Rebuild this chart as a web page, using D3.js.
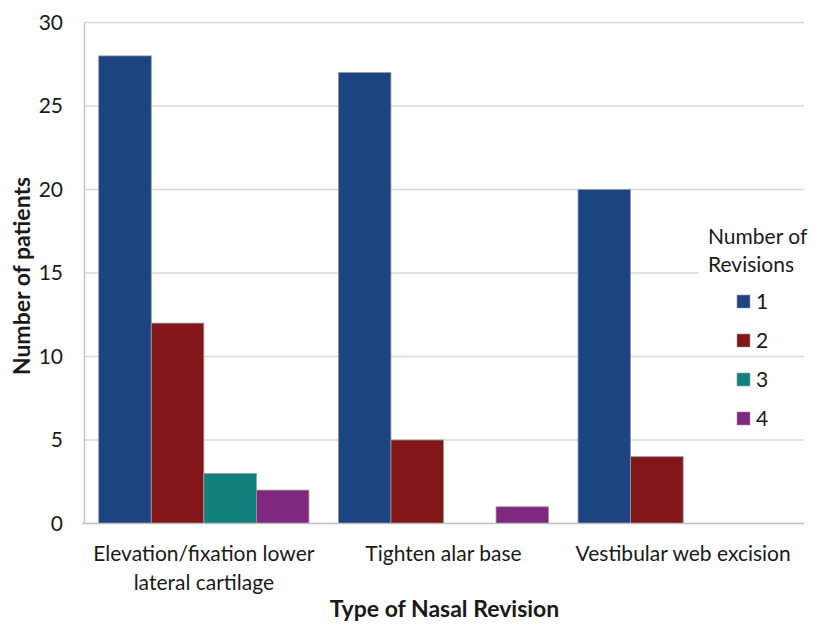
<!DOCTYPE html>
<html>
<head>
<meta charset="utf-8">
<script src="https://cdn.jsdelivr.net/npm/d3@7"></script>
<style>
  html, body { margin: 0; padding: 0; background: #fff; }
  svg text { font-family: Lato, "Open Sans", sans-serif; fill: #1a1a1a; }
</style>
</head>
<body>
<svg id="chart" width="813" height="624"></svg>
<script>
// Revision types (x categories), each label split into display lines
const categories = ["Elevation/fixation lower lateral cartilage", "Tighten alar base", "Vestibular web excision"];
const categoryLines = [["Elevation/fixation lower", "lateral cartilage"], ["Tighten alar base"], ["Vestibular web excision"]];
// Number of revisions (series)
const seriesNames = ["1", "2", "3", "4"];
const seriesColors = ["#1c4480", "#821619", "#12807d", "#7e2880"];
// Patients per revision count, one array per series, aligned with categories
const revisions1 = [28, 27, 20];
const revisions2 = [12, 5, 4];
const revisions3 = [3, 0, 0];
const revisions4 = [2, 1, 0];
const yTicks = [0, 5, 10, 15, 20, 25, 30];

const seriesValues = [revisions1, revisions2, revisions3, revisions4];
const rows = categories.map((c, i) => ({
  category: c,
  values: seriesNames.map((s, j) => ({ series: s, value: seriesValues[j][i] }))
}));

const svg = d3.select("#chart");
const margin = { left: 84, right: 10, top: 22.5, bottom: 100.5 };
const width = 813, height = 624;
const labelSize = 21;

const x0 = d3.scaleBand().domain(categories).range([margin.left, 803]).padding(0);
const x1 = d3.scaleBand().domain(seriesNames).range([0, x0.bandwidth()]).paddingInner(0).paddingOuter(0.28);
const y = d3.scaleLinear().domain([0, 30]).range([height - margin.bottom, margin.top]);
const color = d3.scaleOrdinal().domain(seriesNames).range(seriesColors);

// Horizontal gridlines
svg.append("g")
  .selectAll("line")
  .data(yTicks.filter(t => t > 0))
  .join("line")
  .attr("x1", margin.left).attr("x2", 804)
  .attr("y1", d => y(d)).attr("y2", d => y(d))
  .attr("stroke", "#d9d9d9").attr("stroke-width", 1.3);

// Y axis (labels only, plus a gray axis line)
const yAxis = svg.append("g")
  .attr("transform", `translate(${margin.left},0)`)
  .call(d3.axisLeft(y).tickValues(yTicks).tickSize(0).tickPadding(21));
yAxis.select(".domain").attr("stroke", "#bfbfbf").attr("stroke-width", 1.3);
yAxis.selectAll("text").attr("font-size", labelSize).attr("fill", "#1a1a1a")
  .style("font-family", "Lato, sans-serif");

// Bars
const groups = svg.append("g")
  .selectAll("g")
  .data(rows)
  .join("g")
  .attr("transform", d => `translate(${x0(d.category)},0)`);

groups.selectAll("rect")
  .data(d => d.values.filter(v => v.value > 0))
  .join("rect")
  .attr("x", d => x1(d.series))
  .attr("width", x1.bandwidth())
  .attr("y", d => y(d.value))
  .attr("height", d => y(0) - y(d.value))
  .attr("fill", d => color(d.series))
  .attr("stroke", "#9a9a9a")
  .attr("stroke-width", 0.8);

// Baseline
svg.append("line")
  .attr("x1", margin.left - 2).attr("x2", 804)
  .attr("y1", y(0)).attr("y2", y(0))
  .attr("stroke", "#bfbfbf").attr("stroke-width", 1.5);

// Category labels
const catLabels = svg.append("g")
  .selectAll("text")
  .data(categories)
  .join("text")
  .attr("x", d => x0(d) + x0.bandwidth() / 2)
  .attr("y", 561)
  .attr("text-anchor", "middle")
  .attr("font-size", labelSize);
catLabels.each(function(d, i) {
  d3.select(this).selectAll("tspan")
    .data(categoryLines[i])
    .join("tspan")
    .attr("x", x0(d) + x0.bandwidth() / 2)
    .attr("dy", (t, k) => k === 0 ? 0 : 29)
    .text(t => t);
});

// Axis titles
svg.append("text")
  .attr("x", (margin.left + 803) / 2 + 1)
  .attr("y", 617)
  .attr("text-anchor", "middle")
  .attr("font-size", 23)
  .attr("font-weight", "bold")
  .text("Type of Nasal Revision");

svg.append("text")
  .attr("transform", `translate(30,${(y(0) + y(30)) / 2 + 3}) rotate(-90)`)
  .attr("text-anchor", "middle")
  .attr("font-size", 23)
  .attr("font-weight", "bold")
  .text("Number of patients");

// Legend
const legend = svg.append("g");
legend.append("rect")
  .attr("x", 699).attr("y", 205).attr("width", 108).attr("height", 85)
  .attr("fill", "#fff");
legend.append("text")
  .attr("x", 708).attr("y", 244).attr("font-size", labelSize)
  .text("Number of");
legend.append("text")
  .attr("x", 708).attr("y", 272).attr("font-size", labelSize)
  .text("Revisions");

const legendItems = legend.selectAll("g.item")
  .data(seriesNames)
  .join("g")
  .attr("class", "item")
  .attr("transform", (d, i) => `translate(737,${302 + i * 39})`);
legendItems.append("rect")
  .attr("x", 0).attr("y", -7).attr("width", 13).attr("height", 13)
  .attr("fill", d => color(d))
  .attr("stroke", "#9a9a9a").attr("stroke-width", 0.6);
legendItems.append("text")
  .attr("x", 19).attr("y", 7).attr("font-size", labelSize)
  .text(d => d);
</script>
</body>
</html>
